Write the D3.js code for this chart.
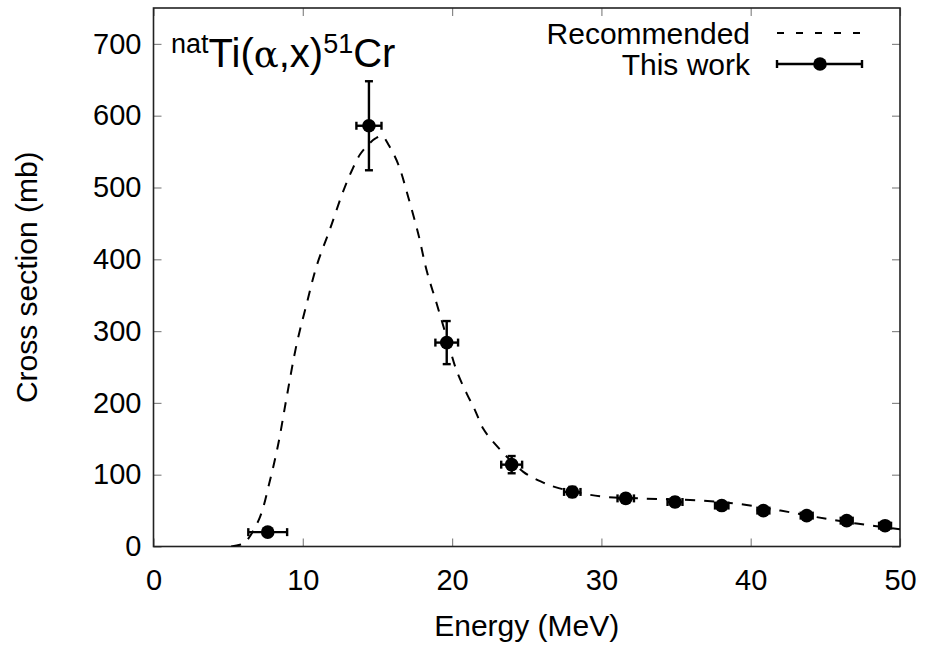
<!DOCTYPE html>
<html>
<head>
<meta charset="utf-8">
<title>natTi(a,x)51Cr</title>
<style>
  body { margin: 0; background: #fff; }
  text { font-family: "Liberation Sans", Arial, Helvetica, sans-serif; fill: #000; }
  .tick text { font-size: 29px; }
  .tick line { stroke: #888; stroke-width: 1.2px; }
  .domain { display: none; }
  .frame { fill: none; stroke: #222; stroke-width: 1.6px; }
  .rec { fill: none; stroke: #000; stroke-width: 2px; stroke-dasharray: 10,9; }
  .err { stroke: #000; stroke-width: 2.4px; }
</style>
<script src="https://d3js.org/d3.v7.min.js"></script>
</head>
<body>
<svg id="chart" width="928" height="650"></svg>
<script>
// measured points (This work)
var energy = [7.65, 14.43, 19.64, 23.99, 28.05, 31.63, 34.93, 38.06, 40.85, 43.75, 46.43, 49.0];
var energyErr = [1.3, 0.84, 0.76, 0.7, 0.55, 0.55, 0.5, 0.45, 0.4, 0.4, 0.4, 0.4];
var xsec = [20, 586, 284, 114, 76, 67, 62, 57, 50, 43, 36, 29];
var xsecErr = [3, 62, 30, 12, 7, 6, 6, 5, 5, 4, 4, 4];

// recommended curve
var recE = [5.2, 6.0, 6.35, 7.13, 7.8, 8.36, 8.92, 9.59, 10.26, 10.93, 11.82, 12.71, 13.27, 13.83, 14.4, 14.84, 15.3,
            15.73, 16.4, 17.07, 17.74, 18.3, 18.97, 19.64, 20.3, 20.98, 21.53, 22.09, 22.87, 24.77, 26.0, 27.2,
            29.9, 32.6, 36.6, 39.3, 42.0, 44.4, 47.1, 50];
var recXs = [0, 4, 11, 41, 92, 143, 208, 282, 338, 391, 442, 495, 523, 546, 560, 568, 572,
             560, 532, 486, 435, 384, 338, 291, 245, 213, 190, 164, 143, 104, 90, 81,
             70, 67, 64, 59, 50, 41, 32, 24];

var xTicks = [0, 10, 20, 30, 40, 50];
var yTicks = [0, 100, 200, 300, 400, 500, 600, 700];

var svg = d3.select("#chart");
var margin = { left: 153.5, right: 28, top: 8, bottom: 103.5 };
var width = 928 - margin.left - margin.right;
var height = 650 - margin.top - margin.bottom;

var g = svg.append("g").attr("transform", "translate(" + margin.left + "," + margin.top + ")");

var x = d3.scaleLinear().domain([0, 50]).range([0, width]);
var y = d3.scaleLinear().domain([0, 750]).range([height, 0]);

// axes, ticks pointing inward (mirrored on top/right)
g.append("g").attr("transform", "translate(0," + height + ")")
  .call(d3.axisBottom(x).tickValues(xTicks).tickSize(-8).tickPadding(16))
  .selectAll("text").attr("dy", "0.95em");
g.append("g").call(d3.axisTop(x).tickValues(xTicks).tickSize(-8).tickFormat(""));
g.append("g")
  .call(d3.axisLeft(y).tickValues(yTicks).tickSize(-8).tickPadding(12));
g.append("g").attr("transform", "translate(" + width + ",0)")
  .call(d3.axisRight(y).tickValues(yTicks).tickSize(-8).tickFormat(""));

g.selectAll(".tick text").style("font-size", "29px").attr("fill", "#000");

g.append("rect").attr("class", "frame").attr("width", width).attr("height", height);

// clip
svg.append("defs").append("clipPath").attr("id", "clip")
  .append("rect").attr("width", width).attr("height", height);

var rec = recE.map(function(e, i) { return [e, recXs[i]]; });
var line = d3.line()
  .x(function(d) { return x(d[0]); })
  .y(function(d) { return y(d[1]); })
  .curve(d3.curveCatmullRom.alpha(0.5));

g.append("path").attr("class", "rec").attr("clip-path", "url(#clip)")
  .datum(rec).attr("d", line);

// error bars + points
var pts = energy.map(function(e, i) {
  return { e: e, de: energyErr[i], s: xsec[i], ds: xsecErr[i] };
});
var cap = 4;
var pg = g.append("g");
pts.forEach(function(p) {
  var cx = x(p.e), cy = y(p.s);
  var x0 = x(p.e - p.de), x1 = x(p.e + p.de);
  var y0 = y(p.s - p.ds), y1 = y(p.s + p.ds);
  pg.append("line").attr("class", "err").attr("x1", x0).attr("x2", x1).attr("y1", cy).attr("y2", cy);
  pg.append("line").attr("class", "err").attr("x1", x0).attr("x2", x0).attr("y1", cy - cap).attr("y2", cy + cap);
  pg.append("line").attr("class", "err").attr("x1", x1).attr("x2", x1).attr("y1", cy - cap).attr("y2", cy + cap);
  pg.append("line").attr("class", "err").attr("x1", cx).attr("x2", cx).attr("y1", y0).attr("y2", y1);
  pg.append("line").attr("class", "err").attr("x1", cx - cap).attr("x2", cx + cap).attr("y1", y0).attr("y2", y0);
  pg.append("line").attr("class", "err").attr("x1", cx - cap).attr("x2", cx + cap).attr("y1", y1).attr("y2", y1);
  pg.append("circle").attr("cx", cx).attr("cy", cy).attr("r", 6.8).attr("fill", "#000");
});

// axis titles
svg.append("text").attr("x", margin.left + width / 2).attr("y", 636)
  .attr("text-anchor", "middle").style("font-size", "30px").text("Energy (MeV)");
svg.append("text").attr("transform", "translate(37," + (margin.top + height / 2) + ") rotate(-90)")
  .attr("text-anchor", "middle").style("font-size", "30px").text("Cross section (mb)");

// reaction label
var title = svg.append("text").attr("x", 171).attr("y", 67).style("font-size", "40px");
title.append("tspan").style("font-size", "27px").attr("dy", "-14").text("nat");
title.append("tspan").attr("dy", "14").text("Ti(");
title.append("tspan").style("font-family", "'DejaVu Serif', serif").style("font-size", "37px").text("α");
title.append("tspan").text(",x)");
title.append("tspan").style("font-size", "27px").attr("dy", "-14").text("51");
title.append("tspan").attr("dy", "14").text("Cr");

// legend
var lx = 750;
svg.append("text").attr("x", lx).attr("y", 44).attr("text-anchor", "end").style("font-size", "30px").text("Recommended");
svg.append("text").attr("x", lx).attr("y", 75).attr("text-anchor", "end").style("font-size", "30px").text("This work");
svg.append("line").attr("x1", 777).attr("x2", 862).attr("y1", 33).attr("y2", 33)
  .attr("stroke", "#000").attr("stroke-width", 2).attr("stroke-dasharray", "7,12");
svg.append("line").attr("class", "err").attr("x1", 777).attr("x2", 862).attr("y1", 64).attr("y2", 64);
svg.append("line").attr("class", "err").attr("x1", 777).attr("x2", 777).attr("y1", 60).attr("y2", 68);
svg.append("line").attr("class", "err").attr("x1", 862).attr("x2", 862).attr("y1", 60).attr("y2", 68);
svg.append("circle").attr("cx", 820).attr("cy", 64).attr("r", 6.8).attr("fill", "#000");
</script>
</body>
</html>
